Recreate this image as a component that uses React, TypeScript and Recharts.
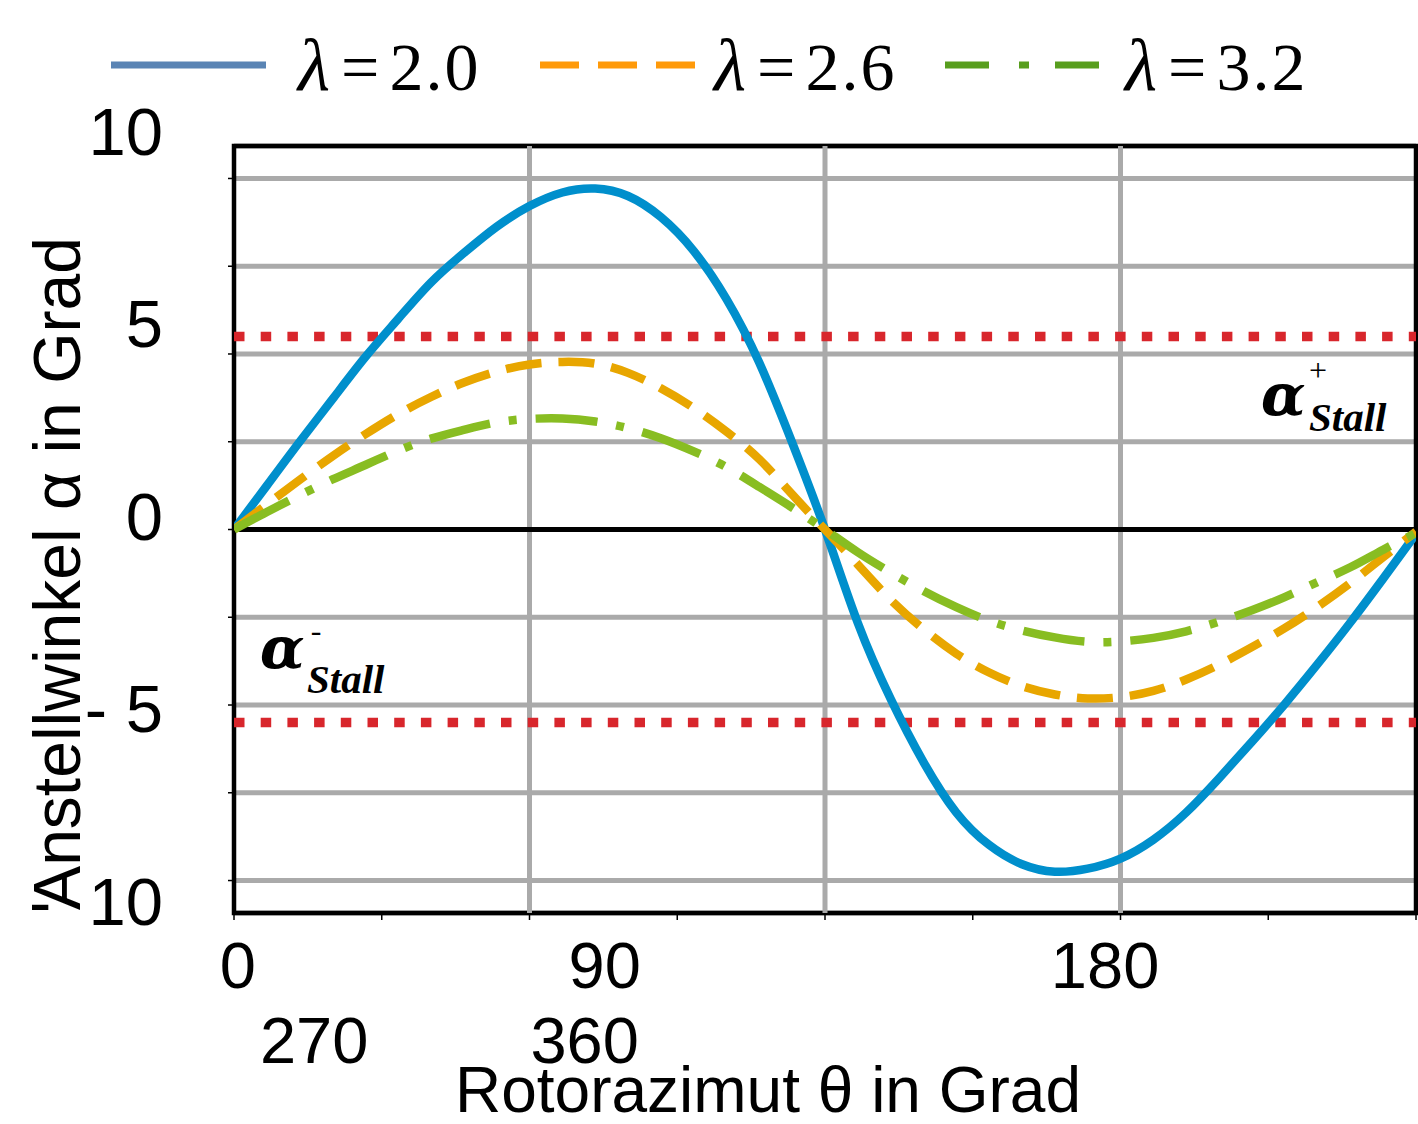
import React from 'react';
import {
  LineChart, Line, XAxis, YAxis, CartesianGrid, ReferenceLine, ReferenceArea, Legend,
} from 'recharts';

// Rotorazimut theta in Grad
const theta = [
  0, 10, 20, 30, 40, 50, 60, 70, 80, 90, 100, 110, 120, 130, 140, 150, 160, 170, 180,
  190, 200, 210, 220, 230, 240, 250, 260, 270, 280, 290, 300, 310, 320, 330, 340, 350, 360,
];

// Anstellwinkel alpha
const alphaL20 = [
  0, 1.0, 2.0, 2.97, 3.93, 4.8, 5.63, 6.3, 6.9, 7.37, 7.68, 7.77, 7.6, 7.12, 6.35, 5.25, 3.8, 1.98, 0,
  -2.13, -3.86, -5.3, -6.45, -7.19, -7.63, -7.8, -7.73, -7.5, -7.07, -6.45, -5.67, -4.84, -3.98, -3.07, -2.12, -1.12, -0.1,
];
const alphaL26 = [
  0, 0.57, 1.13, 1.67, 2.17, 2.63, 3.02, 3.35, 3.6, 3.76, 3.82, 3.78, 3.57, 3.22, 2.77, 2.23, 1.6, 0.8, 0,
  -0.8, -1.6, -2.27, -2.83, -3.26, -3.57, -3.76, -3.85, -3.82, -3.68, -3.42, -3.08, -2.68, -2.25, -1.76, -1.22, -0.63, -0.05,
];
const alphaL32 = [
  0, 0.4, 0.78, 1.14, 1.47, 1.8, 2.07, 2.27, 2.44, 2.52, 2.53, 2.46, 2.31, 2.08, 1.78, 1.42, 0.97, 0.5, 0,
  -0.52, -0.98, -1.4, -1.77, -2.08, -2.3, -2.46, -2.56, -2.55, -2.47, -2.32, -2.1, -1.84, -1.54, -1.2, -0.86, -0.46, -0.08,
];

const stallPlus = 4.4;
const stallMinus = -4.4;

const yGridTicks = [-8, -6, -4, -2, 0, 2, 4, 6, 8];
const yLabelTicks = [10, 5, 0, -5, -10];
const yLabelText = ['10', '5', '0', '- 5', '-\u00a0 10'];

const xMinorTicks = [0, 45, 90, 135, 180, 225, 270, 315, 360];
const xGridLines = [90, 180, 270];
const xRow1Ticks = [1.2, 112.9, 265.3];
const xRow1Text = ['0', '90', '180'];
const xRow2Ticks = [24.4, 106.8];
const xRow2Text = ['270', '360'];

const rows = theta.map((t, i) => ({
  theta: t,
  l20: alphaL20[i],
  l26: alphaL26[i],
  l32: alphaL32[i],
}));

const series = [
  { key: 'l20', name: '2.0', color: '#008fcc', legendColor: '#5a84b4', dash: undefined, legendDash: undefined, itemWidth: 429, textGap: 32 },
  { key: 'l26', name: '2.6', color: '#e8a600', legendColor: '#ff9a0a', dash: '36 17', legendDash: '39 19', itemWidth: 405, textGap: 19 },
  { key: 'l32', name: '3.2', color: '#88bd22', legendColor: '#589e1e', dash: '62 19 8 19', legendDash: '44 30 10 26', itemWidth: 417, textGap: 25 },
];

const SANS = '"Liberation Sans", Arial, sans-serif';
const SERIF = '"Liberation Serif", "Times New Roman", serif';

const LegendContent = () => (
  <div style={{ height: 146 }}>
    <div style={{ display: 'flex', alignItems: 'center', height: 130, paddingLeft: 111 }}>
      {series.map((s) => (
        <div key={s.key} style={{ display: 'flex', alignItems: 'center', width: s.itemWidth }}>
          <svg width={155} height={20} style={{ display: 'block' }}>
            <line x1={0} y1={10} x2={155} y2={10} stroke={s.legendColor} strokeWidth={7}
              strokeDasharray={s.legendDash} />
          </svg>
          <span style={{ marginLeft: s.textGap, fontFamily: SERIF, fontSize: 68, lineHeight: 1, color: '#000', whiteSpace: 'nowrap' }}>
            <i style={{ fontSize: 74 }}>λ</i>
            <span style={{ margin: '0 10px 0 11px' }}>=</span>
            <span style={{ letterSpacing: 2 }}>{s.name}</span>
          </span>
        </div>
      ))}
    </div>
  </div>
);

const StallLabel = (props: any) => {
  const { viewBox, side } = props;
  if (!viewBox) return null;
  const right = side === 'right';
  const ax = right ? viewBox.x + viewBox.width - 155 : viewBox.x + 26;
  const ay = right ? viewBox.y + 79 : viewBox.y - 55;
  const sx = right ? ax + 48 : ax + 47;
  const sy = right ? viewBox.y + 95 : viewBox.y - 30;
  return (
    <g>
      <text x={ax} y={ay} fontFamily='"DejaVu Serif", serif' fontStyle="italic" fontWeight="bold" fontSize={58} fill="#000">α</text>
      <text x={sx + 9} y={right ? viewBox.y + 45 : viewBox.y - 82} fontFamily={SERIF} fontSize={32}
        textAnchor="middle" fill="#000">{right ? '+' : '-'}</text>
      <text x={sx} y={sy} fontFamily={SERIF} fontStyle="italic" fontWeight="bold" fontSize={41} fill="#000">Stall</text>
    </g>
  );
};

const YTitle = (props: any) => {
  const { viewBox } = props;
  if (!viewBox) return null;
  const x = viewBox.x + 80;
  const y = viewBox.y + viewBox.height / 2 + 44;
  return (
    <text x={x} y={y} transform={`rotate(-90, ${x}, ${y})`} textAnchor="middle"
      fontFamily={SANS} fontSize={66} fill="#000">Anstellwinkel α in Grad</text>
  );
};

const XTitle = (props: any) => {
  const { viewBox } = props;
  if (!viewBox) return null;
  return (
    <text x={viewBox.x + viewBox.width / 2 - 57} y={viewBox.y + 117} textAnchor="middle"
      fontFamily={SANS} fontSize={64} fill="#000">Rotorazimut θ in Grad</text>
  );
};

export default function App() {
  return (
    <div>
      <style>{'body{margin:0;}'}</style>
      <LineChart width={1418} height={1124} data={rows} margin={{ top: 0, right: 2, bottom: 0, left: 0 }}>
        <Legend verticalAlign="top" content={<LegendContent />} />
        <CartesianGrid xAxisId="main" yAxisId="agrid" vertical={false} stroke="#aaaaaa" strokeWidth={5} />

        <XAxis xAxisId="main" dataKey="theta" type="number" domain={[0, 360]} ticks={xMinorTicks}
          interval={0} height={10} tickSize={7} tickFormatter={() => ''} allowDataOverflow
          axisLine={false} tickLine={{ stroke: '#000', strokeWidth: 1.5 }} />
        <XAxis xAxisId="row1" dataKey="theta" type="number" domain={[0, 360]} ticks={xRow1Ticks} interval={0}
          height={72} tickSize={0} tickMargin={19} axisLine={false} tickLine={false} allowDataOverflow
          tickFormatter={(v: number) => xRow1Text[xRow1Ticks.indexOf(v)]}
          tick={{ fontSize: 65, fill: '#000', fontFamily: SANS }} />
        <XAxis xAxisId="row2" dataKey="theta" type="number" domain={[0, 360]} ticks={xRow2Ticks} interval={0}
          height={129} tickSize={0} tickMargin={22} axisLine={false} tickLine={false} allowDataOverflow
          tickFormatter={(v: number) => xRow2Text[xRow2Ticks.indexOf(v)]}
          tick={{ fontSize: 65, fill: '#000', fontFamily: SANS }}
          label={<XTitle />} />

        <YAxis yAxisId="agrid" type="number" domain={[-8.74, 8.74]} ticks={yGridTicks} interval={0}
          width={12} tickSize={6} tickFormatter={() => ''} allowDataOverflow
          axisLine={false} tickLine={{ stroke: '#000', strokeWidth: 1.5 }} />
        <YAxis yAxisId="blab" type="number" domain={[-10.31, 9.61]} ticks={yLabelTicks} interval={0}
          width={222} tickSize={0} tickMargin={59} axisLine={false} tickLine={false} allowDataOverflow
          tickFormatter={(v: number) => yLabelText[yLabelTicks.indexOf(v)]}
          tick={{ fontSize: 67, fill: '#000', fontFamily: SANS }}
          label={<YTitle />} />

        {xGridLines.map((g) => (
          <ReferenceLine key={g} x={g} xAxisId="main" yAxisId="agrid" stroke="#aaaaaa" strokeWidth={5} />
        ))}
        <ReferenceLine y={stallPlus} xAxisId="main" yAxisId="agrid" stroke="#d8262c" strokeWidth={9.5}
          strokeDasharray="10.5 16.2" label={<StallLabel side="right" />} />
        <ReferenceLine y={stallMinus} xAxisId="main" yAxisId="agrid" stroke="#d8262c" strokeWidth={9.5}
          strokeDasharray="10.5 16.2" label={<StallLabel side="left" />} />
        <ReferenceLine y={0} xAxisId="main" yAxisId="agrid" stroke="#000" strokeWidth={5} />

        {series.map((s) => (
          <Line key={s.key} xAxisId="main" yAxisId="agrid" dataKey={s.key} name={s.name} type="natural"
            stroke={s.color} strokeWidth={8.5} strokeDasharray={s.dash} dot={false} activeDot={false}
            isAnimationActive={false} />
        ))}

        <ReferenceArea xAxisId="main" yAxisId="agrid" x1={0} x2={360} y1={-8.74} y2={8.74}
          fill="none" fillOpacity={0} stroke="#000" strokeWidth={4.5} ifOverflow="visible" />
      </LineChart>
    </div>
  );
}
